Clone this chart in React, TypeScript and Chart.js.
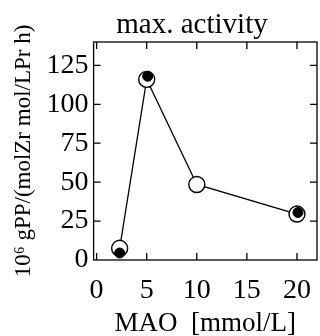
import React, { useEffect, useRef } from "react";
import { Chart, registerables } from "chart.js";

Chart.register(...registerables);

const lineX = [2.3, 5.0, 10.0, 20.0];
const openY = [7.5, 116, 48.5, 29.5];
const filledX = [2.3, 5.1, 20.1];
const filledY = [4.5, 118, 30.5];
const xTicks = [0, 5, 10, 15, 20];
const yTicks = [0, 25, 50, 75, 100, 125];
const titleText = "max. activity";

const FONT = "'Liberation Serif', 'Times New Roman', serif";

const frameTicks = {
  id: "frameTicks",
  afterDatasetsDraw(chart: any) {
    const { ctx, chartArea: a, scales } = chart;
    const len = 7;
    ctx.save();
    ctx.strokeStyle = "#000";
    ctx.lineWidth = 1.3;
    ctx.strokeRect(a.left, a.top, a.right - a.left, a.bottom - a.top);
    ctx.beginPath();
    xTicks.forEach((v) => {
      const px = scales.x.getPixelForValue(v);
      if (px <= a.left + 1 || px >= a.right - 1) return;
      ctx.moveTo(px, a.top);
      ctx.lineTo(px, a.top + len);
      ctx.moveTo(px, a.bottom);
      ctx.lineTo(px, a.bottom - len);
    });
    yTicks.forEach((v) => {
      const py = scales.y.getPixelForValue(v);
      if (py <= a.top + 1 || py >= a.bottom - 1) return;
      ctx.moveTo(a.left, py);
      ctx.lineTo(a.left + len, py);
      ctx.moveTo(a.right, py);
      ctx.lineTo(a.right - len, py);
    });
    ctx.stroke();
    // title centred over the plot frame
    ctx.fillStyle = "#000";
    ctx.font = `29px ${FONT}`;
    ctx.textAlign = "center";
    ctx.textBaseline = "alphabetic";
    ctx.fillText(titleText, 192, a.top - 9);
    ctx.restore();
  },
};

export default function App() {
  const ref = useRef<HTMLCanvasElement>(null);
  useEffect(() => {
    document.body.style.margin = "0";
    document.body.style.overflow = "hidden";
    const chart = new Chart(ref.current!, {
      type: "scatter",
      data: {
        datasets: [
          {
            label: "filled",
            data: filledX.map((x, i) => ({ x, y: filledY[i] })),
            showLine: false,
            pointRadius: 5,
            pointBackgroundColor: "#000",
            pointBorderColor: "#000",
            pointBorderWidth: 1,
            order: 0,
          },
          {
            label: "open",
            data: lineX.map((x, i) => ({ x, y: openY[i] })),
            showLine: true,
            borderColor: "#000",
            borderWidth: 1.3,
            pointRadius: 8,
            pointBackgroundColor: "#fff",
            pointBorderColor: "#000",
            pointBorderWidth: 1.4,
            order: 1,
          },
        ],
      },
      options: {
        animation: false,
        responsive: false,
        maintainAspectRatio: false,
        layout: {
          autoPadding: false,
          padding: { left: 10, right: 3, top: 42, bottom: -4 },
        },
        plugins: {
          legend: { display: false },
          tooltip: { enabled: false },
          title: { display: false },
        },
        scales: {
          x: {
            type: "linear",
            min: -0.3,
            max: 22,
            afterBuildTicks: (s: any) => {
              s.ticks = xTicks.map((v) => ({ value: v }));
            },
            afterFit: (s: any) => {
              s.paddingRight = 0;
            },
            grid: { display: false, drawTicks: false },
            border: { display: false },
            ticks: {
              color: "#000",
              padding: 14,
              font: { family: FONT, size: 28 },
            },
            title: {
              display: true,
              text: "MAO  [mmol/L]",
              color: "#000",
              font: { family: FONT, size: 27 },
              padding: { top: -14, bottom: 0 },
            },
          },
          y: {
            type: "linear",
            min: 0,
            max: 140,
            afterBuildTicks: (s: any) => {
              s.ticks = yTicks.map((v) => ({ value: v }));
            },
            grid: { display: false, drawTicks: false },
            border: { display: false },
            ticks: {
              color: "#000",
              padding: 5,
              font: { family: FONT, size: 28 },
            },
            title: {
              display: true,
              text: "10⁶ gPP/(molZr mol/LPr h)",
              color: "#000",
              font: { family: FONT, size: 23 },
              padding: { top: 0, bottom: 4 },
            },
          },
        },
      },
      plugins: [frameTicks],
    });
    return () => chart.destroy();
  }, []);
  return (
    <div style={{ width: 320, height: 336, overflow: "hidden" }}>
      <canvas ref={ref} width={320} height={336} style={{ display: "block" }} />
    </div>
  );
}
